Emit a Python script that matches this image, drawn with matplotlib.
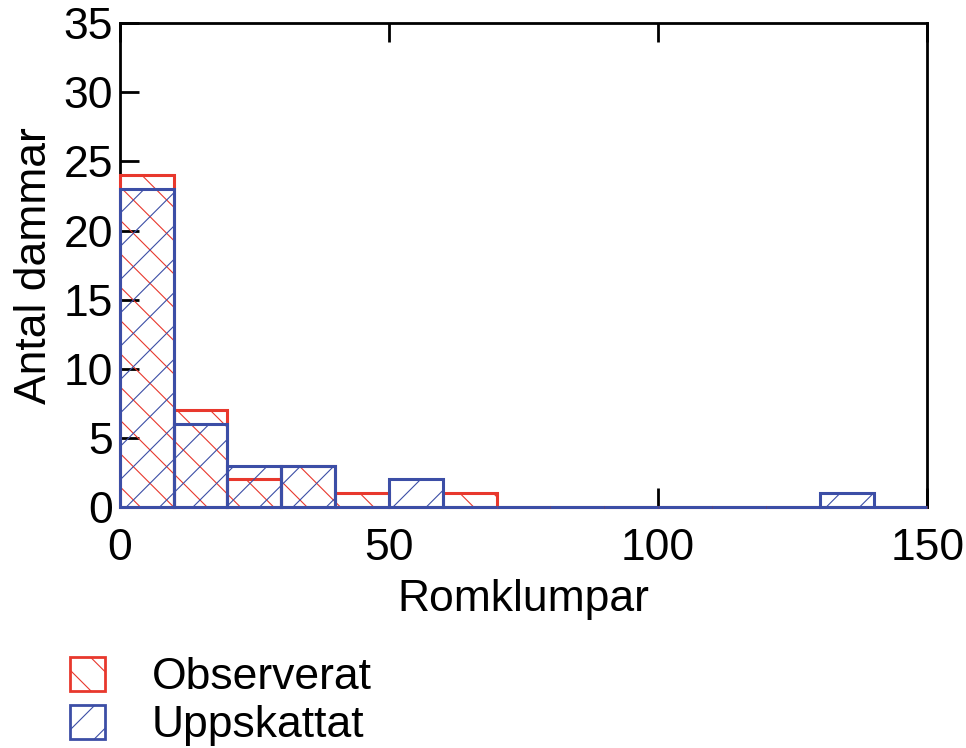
import matplotlib.pyplot as plt
from matplotlib.patches import Patch

plt.rcParams['font.family'] = ['Liberation Sans', 'DejaVu Sans']
plt.rcParams['hatch.linewidth'] = 0.8

bin_edges = list(range(0, 160, 10))
observed = [24, 7, 2, 3, 1, 0, 1, 0, 0, 0, 0, 0, 0, 0, 0]
estimated = [23, 6, 3, 3, 0, 2, 0, 0, 0, 0, 0, 0, 0, 1, 0]

red = '#e8382d'
blue = '#3c4ea6'

fig = plt.figure(figsize=(9.66, 7.48), dpi=100)
ax = fig.add_axes([0.124, 0.322, 0.836, 0.647])

ax.bar(bin_edges[:-1], observed, width=10, align='edge', fill=False,
       edgecolor=red, hatch='\\', linewidth=2.2, label='Observerat',
       zorder=3, clip_on=False)
ax.bar(bin_edges[:-1], estimated, width=10, align='edge', fill=False,
       edgecolor=blue, hatch='/', linewidth=2.2, label='Uppskattat',
       zorder=3, clip_on=False)

ax.set_xlim(0, 150)
ax.set_ylim(0, 35)
ax.set_xticks([0, 50, 100, 150])
ax.set_yticks(range(0, 40, 5))
ax.tick_params(axis='both', direction='in', length=14, width=2,
               labelsize=32, top=True, right=False)
ax.tick_params(axis='x', pad=15)
ax.tick_params(axis='y', pad=5)
for s in ax.spines.values():
    s.set_linewidth(2)

ax.set_xlabel('Romklumpar', fontsize=32, labelpad=7)
ax.set_ylabel('Antal dammar', fontsize=32, labelpad=6)

handles = [Patch(facecolor='none', edgecolor=red, hatch='\\', linewidth=2),
           Patch(facecolor='none', edgecolor=blue, hatch='/', linewidth=2)]
fig.legend(handles, ['Observerat', 'Uppskattat'], loc='upper left',
           bbox_to_anchor=(0.072, 0.122), frameon=False, fontsize=32,
           handlelength=0.8, handleheight=0.8, handletextpad=1.05,
           labelspacing=0.15, borderaxespad=0, borderpad=0)

fig.savefig('out.png', dpi=100)
